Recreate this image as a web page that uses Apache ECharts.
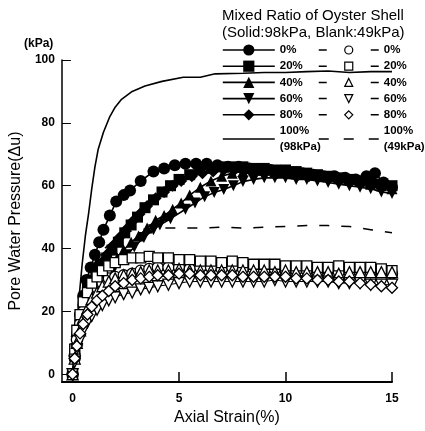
<!DOCTYPE html>
<html>
<head>
<meta charset="utf-8">
<script src="https://cdn.jsdelivr.net/npm/echarts@6/dist/echarts.min.js"></script>
<style>
  html, body { margin: 0; padding: 0; background: #fff; }
  #chart { width: 425px; height: 431px; }
</style>
</head>
<body>
<div id="chart"></div>
<script>
  // axis ticks
  var xTicks = [0, 5, 10, 15];
  var yTicks = [0, 20, 40, 60, 80, 100];

  // solid symbols : 98kPa
  var strainS0 = [0, 0.1, 0.2, 0.35, 0.5, 0.65, 0.85, 1.05, 1.25, 1.45, 1.75, 2.05, 2.4, 2.7, 3.2, 3.8, 4.3, 4.8, 5.3, 5.8, 6.3, 6.8, 7.3, 7.8, 8.3, 8.8, 9.3, 9.8, 10.3, 10.8, 11.3, 11.8, 12.3, 12.8, 13.3, 13.8, 14.2, 14.6, 15];
  var pwpS0 = [0, 5, 12, 19, 25, 30, 34, 38, 42, 46, 50.5, 55, 57, 58.5, 61.5, 64.5, 65.5, 66.5, 67, 67, 67, 66.5, 66, 66, 65.5, 65, 65, 64.5, 64, 64, 63.5, 63, 63, 62.5, 62, 63, 64, 61, 59.5];

  var strainS20 = [0, 0.1, 0.2, 0.35, 0.5, 0.7, 0.9, 1.1, 1.3, 1.6, 1.85, 2.15, 2.45, 2.75, 3.05, 3.4, 3.8, 4.2, 4.6, 5.0, 5.5, 5.95, 6.5, 7, 7.5, 8, 8.5, 9, 9.5, 10, 10.5, 11, 11.5, 12, 12.5, 13, 13.5, 14, 14.5, 15];
  var pwpS20 = [0, 6, 12, 18, 23, 27, 30, 33, 35, 37, 39.5, 42, 45, 47.5, 50, 53, 55.5, 58, 60, 62, 63.5, 65, 65.5, 66, 66, 66, 65.5, 65.5, 65, 65, 64.5, 64, 63.5, 63, 62.5, 62, 61.5, 61, 60.5, 60];

  var strainS40 = [0, 0.1, 0.25, 0.4, 0.6, 0.8, 1.0, 1.25, 1.5, 1.8, 2.1, 2.4, 2.75, 3.1, 3.5, 3.9, 4.3, 4.7, 5.1, 5.5, 6.0, 6.5, 7.0, 7.5, 8, 8.5, 9, 9.5, 10, 10.5, 11, 11.5, 12, 12.5, 13, 13.5, 14, 14.5, 15];
  var pwpS40 = [0, 5, 11, 16, 20, 24, 27, 30, 32.5, 35, 37, 39.5, 42, 44, 46.5, 49, 50.5, 52.5, 54.5, 57, 59.5, 61.5, 63, 64, 64.5, 65, 65, 64.5, 64.5, 64, 64, 63.5, 63, 62.5, 62, 61.5, 60.5, 60, 59];

  var strainS60 = [0, 0.1, 0.25, 0.4, 0.6, 0.8, 1.0, 1.3, 1.6, 1.9, 2.2, 2.55, 2.9, 3.35, 3.8, 4.1, 4.6, 5.3, 5.75, 6.2, 6.65, 7.1, 7.55, 8.0, 8.5, 9, 9.5, 10, 10.5, 11, 11.5, 12, 12.5, 13, 13.5, 14, 14.5, 15];
  var pwpS60 = [0, 4, 9, 14, 18, 21.5, 24.5, 28, 30.5, 33, 35.5, 38, 40.5, 43.5, 46, 47.5, 49.5, 52.5, 54.5, 56.5, 57.8, 58.8, 60, 61.3, 62, 62.5, 62.5, 62.5, 62, 62, 61.5, 61, 60.5, 60, 59.5, 59, 58, 57.5];

  var strainS80 = [0, 0.1, 0.2, 0.35, 0.5, 0.7, 0.9, 1.1, 1.35, 1.6, 1.9, 2.2, 2.5, 2.8, 3.15, 3.5, 3.9, 4.3, 4.7, 5.1, 5.6, 6.1, 6.6, 7.1, 7.6, 8.1, 8.6, 9.1, 9.6, 10.1, 10.6, 11.1, 11.6, 12.1, 12.6, 13.1, 13.6, 14.1, 14.6, 15];
  var pwpS80 = [0, 6, 12, 17, 22, 26, 29.5, 32.5, 35.5, 38, 41, 43.5, 46, 48.5, 51, 53.5, 56, 58, 60, 61.5, 63, 64, 64.5, 65, 65, 65, 64.5, 64.5, 64, 64, 63.5, 63, 63, 62.5, 62, 61.5, 61, 60.5, 60, 59.5];

  var strainS100 = [0, 0.15, 0.3, 0.45, 0.6, 0.75, 0.9, 1.05, 1.2, 1.45, 1.75, 2.0, 2.3, 2.8, 3.4, 4.2, 5.2, 6.0, 6.7, 8, 9, 10, 11, 12, 13, 14, 15];
  var pwpS100 = [0, 11, 24, 35, 44, 51, 59, 66, 71.5, 77, 82, 85, 87.5, 90, 91.7, 93.2, 94.5, 94.5, 95.6, 95.8, 96, 96, 96.3, 96.5, 96, 96.3, 96.3];

  // blank symbols : 49kPa
  var strainB = [0, 0.1, 0.2, 0.35, 0.5, 0.7, 0.9, 1.15, 1.4, 1.7, 2.0, 2.4, 2.8, 3.2, 3.6, 4.0, 4.5, 5, 5.5, 6, 6.5, 7, 7.5, 8, 8.5, 9, 9.5, 10, 10.5, 11, 11.5, 12, 12.5, 13, 13.5, 14, 14.5, 15];
  var pwpB0 = [0, 6, 11, 16, 20, 23, 25.5, 27.5, 29, 30.5, 31, 31.5, 32, 33, 33.5, 34, 34, 34, 33.5, 34, 34, 33.5, 34, 33.5, 33.5, 33, 33.5, 33, 33, 33, 32.5, 33, 32.5, 32.5, 32.5, 32.5, 32.5, 32];
  var pwpB20 = [0, 8, 14, 19, 23, 26, 29, 31, 33, 34.5, 35.5, 36.5, 37, 37, 37.5, 37, 37, 36.5, 36.5, 36, 36, 35.5, 36, 35.5, 35, 35, 35, 34.5, 34.5, 34.5, 34, 34, 34.5, 34, 34, 34, 33.5, 33];
  var pwpB40 = [0, 5, 10, 14, 18, 21, 24, 26, 28, 29.5, 30.5, 31.5, 32, 32.5, 33, 33, 33, 33.5, 33, 33, 33, 33, 33, 33, 33, 33, 32.5, 33, 32.5, 32.5, 32.5, 32.5, 32, 32.5, 32.5, 32.5, 32.5, 32.5];
  var pwpB60 = [0, 4, 8, 11, 14, 16.5, 18.5, 20.5, 22, 23.5, 24.5, 25.5, 26, 27, 27.5, 28, 28.5, 29, 29.5, 29.5, 29.5, 29.5, 29.5, 29.5, 29.5, 29.5, 30, 29.5, 29.5, 29.5, 29.5, 29.5, 29, 29, 29, 28.5, 28.5, 28.5];
  var pwpB80 = [0, 5, 9, 13, 16, 19, 21.5, 23.5, 25, 26.5, 28, 29, 30, 30.5, 31, 31.5, 31.5, 32, 32, 31.5, 31.5, 31.5, 31.5, 31, 31, 31, 31, 31, 30.5, 30.5, 30, 30, 29.5, 29.5, 29, 28.5, 28, 27.5];

  var strainB100 = [0, 0.3, 0.6, 1, 1.5, 2, 2.5, 3, 4, 5, 6, 7, 8, 9, 10, 11, 12, 13, 14, 15];
  var pwpB100 = [0, 15, 27, 35, 40, 43, 45, 46, 46.5, 46.5, 46.5, 46.8, 46.5, 46.8, 47, 47.3, 47.3, 47, 46, 45];

  var font = '"Liberation Sans", Arial, sans-serif';

  function pairs(xs, ys) {
    return xs.map(function (x, i) { return [x, ys[i]]; });
  }

  function solid(name, xs, ys, symbol, size, rotate) {
    return {
      name: name, type: 'line', data: pairs(xs, ys),
      symbol: symbol, symbolSize: size, symbolRotate: rotate || 0,
      itemStyle: {color: '#000'},
      lineStyle: {color: '#000', width: 1.6},
      z: 3
    };
  }

  function blank(name, xs, ys, symbol, size, rotate) {
    return {
      name: name, type: 'line', data: pairs(xs, ys),
      symbol: symbol, symbolSize: size, symbolRotate: rotate || 0,
      itemStyle: {color: '#fff', borderColor: '#000', borderWidth: 1.3},
      lineStyle: {color: '#000', width: 1},
      z: 4
    };
  }

  var series = [
    solid('0%', strainS0, pwpS0, 'circle', 12),
    solid('20%', strainS20, pwpS20, 'rect', 11),
    solid('40%', strainS40, pwpS40, 'triangle', 11),
    solid('60%', strainS60, pwpS60, 'triangle', 11, 180),
    solid('80%', strainS80, pwpS80, 'diamond', 12),
    {
      name: '100%\n(98kPa)', type: 'line', data: pairs(strainS100, pwpS100),
      symbol: 'circle', showSymbol: false,
      itemStyle: {color: 'rgba(0,0,0,0)', borderWidth: 0},
      lineStyle: {color: '#000', width: 1.6}, z: 2
    },
    blank(' 0%', strainB, pwpB0, 'circle', 11),
    blank(' 20%', strainB, pwpB20, 'rect', 10),
    blank(' 40%', strainB, pwpB40, 'triangle', 11),
    blank(' 60%', strainB, pwpB60, 'triangle', 11, 180),
    blank(' 80%', strainB, pwpB80, 'diamond', 11),
    {
      name: ' 100%\n(49kPa)', type: 'line', data: pairs(strainB100, pwpB100),
      symbol: 'circle', showSymbol: false,
      itemStyle: {color: 'rgba(0,0,0,0)', borderWidth: 0},
      lineStyle: {color: '#000', width: 1.5, type: [10, 12]}, z: 2
    }
  ];

  var solidNames = ['0%', '20%', '40%', '60%', '80%', '100%\n(98kPa)'];
  var blankNames = [' 0%', ' 20%', ' 40%', ' 60%', ' 80%', ' 100%\n(49kPa)'];

  var legendText = {color: '#000', fontSize: 11.5, fontWeight: 'bold', fontFamily: font, lineHeight: 16};

  var chart = echarts.init(document.getElementById('chart'));
  chart.setOption({
    animation: false,
    backgroundColor: '#fff',
    title: {
      text: 'Mixed Ratio of Oyster Shell\n(Solid:98kPa, Blank:49kPa)',
      left: 222, top: 7, padding: 0,
      textStyle: {color: '#000', fontSize: 15, fontWeight: 'normal', fontFamily: font, lineHeight: 17}
    },
    legend: [
      {
        orient: 'vertical', left: 222, top: 42, padding: 0,
        itemWidth: 52, itemHeight: 14, itemGap: 0.2,
        textStyle: legendText,
        data: solidNames.map(function (n) {
          return {name: n, lineStyle: {color: '#000', width: 1.6, type: 'solid'}};
        }),
        formatter: function (n) { return n.trim(); }
      },
      {
        orient: 'vertical', left: 318, top: 42, padding: 0,
        itemWidth: 60, itemHeight: 10, itemGap: 0.2,
        textStyle: legendText,
        data: blankNames.map(function (n, i) {
          var last = i === 5;
          return {
            name: n,
            lineStyle: {color: '#000', width: 1.5, type: last ? [10, 15] : [8, 44]},
            itemStyle: last ? {color: 'rgba(0,0,0,0)', borderColor: 'rgba(0,0,0,0)', borderWidth: 0}
                            : {borderWidth: 1.2, borderColor: '#000'}
          };
        }),
        formatter: function (n) { return n.trim(); }
      }
    ],
    graphic: [
      {type: 'text', left: 24, top: 38, style: {text: '(kPa)', fill: '#000', font: 'bold 12px ' + font}}
    ],
    grid: {left: 60, right: 33, top: 60, bottom: 43},
    xAxis: {
      type: 'value', min: -0.5, max: 15,
      name: 'Axial Strain(%)', nameLocation: 'middle', nameGap: 25,
      nameTextStyle: {color: '#000', fontSize: 16, fontFamily: font},
      axisLine: {onZero: false, lineStyle: {color: '#000', width: 2}},
      axisTick: {inside: true, length: 10, customValues: xTicks, lineStyle: {color: '#000', width: 1.5}},
      axisLabel: {customValues: xTicks, margin: 11, color: '#000', fontSize: 12, fontWeight: 'bold', fontFamily: font},
      splitLine: {show: false}
    },
    yAxis: {
      type: 'value', min: -2.5, max: 100,
      name: 'Pore Water Pressure(\u0394u)', nameLocation: 'middle', nameGap: 32,
      nameTextStyle: {color: '#000', fontSize: 16, fontFamily: font},
      axisLine: {show: true, onZero: false, lineStyle: {color: '#000', width: 1.5}},
      axisTick: {show: true, inside: true, length: 9, customValues: yTicks, lineStyle: {color: '#000', width: 1}},
      axisLabel: {customValues: yTicks, margin: 7, color: '#000', fontSize: 12, fontWeight: 'bold', fontFamily: font},
      splitLine: {show: false}
    },
    series: series
  });
</script>
</body>
</html>
